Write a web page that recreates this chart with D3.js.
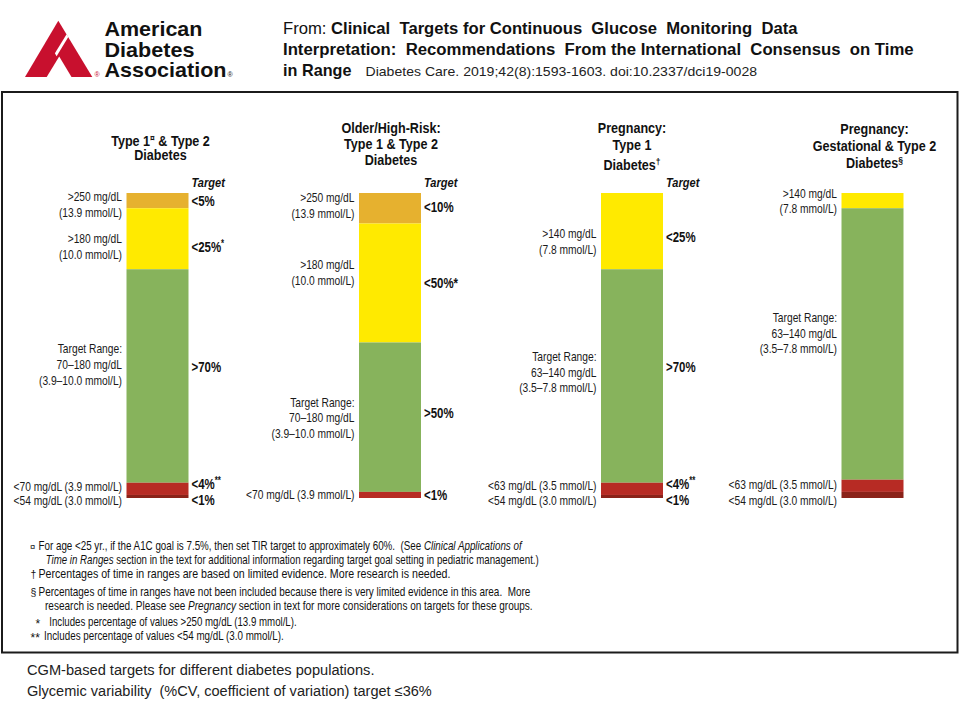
<!DOCTYPE html>
<html><head><meta charset="utf-8">
<script src="https://cdn.jsdelivr.net/npm/d3@7"></script>
<style>
body{margin:0;background:#fff}
svg{display:block}
text{font-family:"Liberation Sans",Arial,Helvetica,sans-serif;fill:#111;white-space:pre}
</style>
</head><body>
<svg id="c" width="960" height="720"></svg>
<script>
// ---------------- DATA ----------------
const categories = ["Type 1 & Type 2", "Older/High-Risk", "Pregnancy: Type 1", "Pregnancy: Gestational & Type 2"];
const bandKeys = ["veryHigh", "high", "inRange", "low", "veryLow"];
// percent of time shown in each band (top to bottom)
const veryHigh = [5, 10, 0, 0];
const high     = [20, 39, 25, 5];
const inRange  = [70, 49, 70, 89];
const low      = [4, 2, 4, 4];
const veryLow  = [1, 0, 1, 2];

const titleLines = [
  [[["Type 1"], ["¤", "sup"], [" & Type 2"]], [["Diabetes"]]],
  [[["Older/High-Risk:"]], [["Type 1 & Type 2"]], [["Diabetes"]]],
  [[["Pregnancy:"]], [["Type 1"]], [["Diabetes"], ["†", "sup"]]],
  [[["Pregnancy:"]], [["Gestational & Type 2"]], [["Diabetes"], ["§", "sup"]]]
];
// left labels: "at" = position along the bar in percent units
const leftLabels = [
  [{at: 2.6, lines: [">250 mg/dL", "(13.9 mmol/L)"]},
   {at: 16.3, lines: [">180 mg/dL", "(10.0 mmol/L)"]},
   {at: 52.6, lines: ["Target Range:", "70–180 mg/dL", "(3.9–10.0 mmol/L)"]},
   {at: 97.6, lines: ["<70 mg/dL (3.9 mmol/L)"]},
   {at: 102.2, lines: ["<54 mg/dL (3.0 mmol/L)"]}],
  [{at: 3.1, lines: [">250 mg/dL", "(13.9 mmol/L)"]},
   {at: 25, lines: [">180 mg/dL", "(10.0 mmol/L)"]},
   {at: 70, lines: ["Target Range:", "70–180 mg/dL", "(3.9–10.0 mmol/L)"]},
   {at: 100.4, lines: ["<70 mg/dL (3.9 mmol/L)"]}],
  [{at: 14.7, lines: [">140 mg/dL", "(7.8 mmol/L)"]},
   {at: 55, lines: ["Target Range:", "63–140 mg/dL", "(3.5–7.8 mmol/L)"]},
   {at: 97.4, lines: ["<63 mg/dL (3.5 mmol/L)"]},
   {at: 102.2, lines: ["<54 mg/dL (3.0 mmol/L)"]}],
  [{at: 1.5, lines: [">140 mg/dL", "(7.8 mmol/L)"]},
   {at: 42.2, lines: ["Target Range:", "63–140 mg/dL", "(3.5–7.8 mmol/L)"]},
   {at: 97, lines: ["<63 mg/dL (3.5 mmol/L)"]},
   {at: 102.2, lines: ["<54 mg/dL (3.0 mmol/L)"]}]
];
const targetLabels = [
  [{at: 4.3, t: "<5%"}, {at: 19.2, t: "<25%", sup: "*"}, {at: 58.6, t: ">70%"}, {at: 97, t: "<4%", sup: "**"}, {at: 102.3, t: "<1%"}],
  [{at: 6.1, t: "<10%"}, {at: 31.1, t: "<50%*"}, {at: 73.9, t: ">50%"}, {at: 100.7, t: "<1%"}],
  [{at: 16, t: "<25%"}, {at: 58.6, t: ">70%"}, {at: 97, t: "<4%", sup: "**"}, {at: 102.3, t: "<1%"}],
  []
];
const footnotes = [
  {sym: "¤", parts: [["For age <25 yr., if the A1C goal is 7.5%, then set TIR target to approximately 60%.  (See "], ["Clinical Applications of", "i"]]},
  {sym: "", parts: [["Time in Ranges", "i"], [" section in the text for additional information regarding target goal setting in pediatric management.)"]]},
  {sym: "†", parts: [["Percentages of time in ranges are based on limited evidence. More research is needed."]]},
  {sym: "§", parts: [["Percentages of time in ranges have not been included because there is very limited evidence in this area.  More"]]},
  {sym: "", parts: [["research is needed. Please see "], ["Pregnancy", "i"], [" section in text for more considerations on targets for these groups."]]},
  {sym: "*", parts: [["Includes percentage of values >250 mg/dL (13.9 mmol/L)."]]},
  {sym: "**", parts: [["Includes percentage of values <54 mg/dL (3.0 mmol/L)."]]}
];
const captionLines = ["CGM-based targets for different diabetes populations.",
  "Glycemic variability  (%CV, coefficient of variation) target ≤36%"];

// ---------------- LAYOUT ----------------
const svg = d3.select("#c");
const colors = {veryHigh: "#E6B12F", high: "#FFEA00", inRange: "#87B35C", low: "#B72B24", veryLow: "#8A2219"};
const x = d3.scaleOrdinal(categories, [157.5, 390, 632, 872.5]);
const barW = 62;
const y = d3.scaleLinear([0, 100], [193, 498]);
const SX = 0.8; // condensed type

function ctext(parent, px, py, anchor, size, weight, style, sx) {
  return parent.append("text")
    .attr("transform", `translate(${px},${py}) scale(${sx == null ? SX : sx},1)`)
    .attr("text-anchor", anchor)
    .style("font-size", size + "px")
    .style("font-weight", weight || "normal")
    .style("font-style", style || "normal");
}
// fit a start-anchored text to a given width by horizontal scaling
function fitText(t, px, py, w) {
  const nat = t.node().getComputedTextLength();
  t.attr("transform", `translate(${px},${py}) scale(${w / nat},1)`);
  return t;
}

// header -------------------------------------------------
const logo = svg.append("g");
logo.append("path").attr("d", "M58.3,20.7 L25,77 L92.3,77 Z").attr("fill", "#C8102E");
logo.append("path").attr("d", "M46.7,77 L71.5,77 L59.2,56.5 Z").attr("fill", "#fff");
logo.append("path").attr("d", "M66.6,34.2 L68.3,37.1 L56.6,56.2 L54.9,53.3 Z").attr("fill", "#fff");
[["American", 36, 98], ["Diabetes", 56.7, 90], ["Association", 76.7, 122]].forEach(([t, by, w]) => {
  const e = logo.append("text").style("font-size", "20px").style("font-weight", "bold").style("fill", "#111").text(t);
  fitText(e, 104.5, by, w);
});
logo.append("text").attr("x", 94.5).attr("y", 77).style("font-size", "7px").style("fill", "#C8102E").text("®");
logo.append("text").attr("x", 227.5).attr("y", 77).style("font-size", "7px").style("fill", "#111").text("®");

const h1 = svg.append("text").style("font-size", "16px");
h1.append("tspan").text("From: ");
h1.append("tspan").style("font-weight", "bold").text("Clinical  Targets for Continuous  Glucose  Monitoring  Data");
fitText(h1, 283, 33.5, 515);
fitText(svg.append("text").style("font-size", "16px").style("font-weight", "bold")
  .text("Interpretation:  Recommendations  From the International  Consensus  on Time"), 283, 54.5, 631);
fitText(svg.append("text").style("font-size", "16px").style("font-weight", "bold").text("in Range"), 283, 75.5, 68.5);
fitText(svg.append("text").style("font-size", "13px").style("fill", "#222")
  .text("Diabetes Care. 2019;42(8):1593-1603. doi:10.2337/dci19-0028"), 365.5, 75.5, 392);

// frame
svg.append("rect").attr("x", 2).attr("y", 92).attr("width", 955.5).attr("height", 560.5)
  .attr("fill", "none").attr("stroke", "#1b1b1b").attr("stroke-width", 2);

// bars ----------------------------------------------------
const table = categories.map((c, i) => ({cat: c, veryHigh: veryHigh[i], high: high[i], inRange: inRange[i], low: low[i], veryLow: veryLow[i]}));
const series = d3.stack().keys(bandKeys)(table);
svg.append("g").selectAll("g").data(series).join("g")
  .attr("fill", d => colors[d.key])
  .selectAll("rect").data(d => d.filter(v => v[1] > v[0])).join("rect")
  .attr("x", d => x(d.data.cat) - barW / 2)
  .attr("width", barW)
  .attr("y", d => y(d[0]))
  .attr("height", d => y(d[1]) - y(d[0]));

// titles
const titleBase = [[146, 160], [133, 149, 165], [133, 150, 170], [134, 151, 168]];
const titleShift = [3, 1, 0, 2];
categories.forEach((c, i) => {
  titleLines[i].forEach((line, j) => {
    const t = ctext(svg, x(c) + titleShift[i], titleBase[i][j], "middle", 14, "bold", "normal", 0.9);
    let raised = false;
    line.forEach(([s, kind]) => {
      const ts = t.append("tspan").text(s);
      if (kind === "sup") { ts.attr("dy", -5).style("font-size", "9.5px"); raised = true; }
      else if (raised) { ts.attr("dy", 5); raised = false; }
    });
  });
});

// left labels
categories.forEach((c, i) => {
  const lx = x(c) - barW / 2 - 4.5;
  leftLabels[i].forEach(lab => {
    lab.lines.forEach((ln, k) => {
      ctext(svg, lx, y(lab.at) + k * 15.8, "end", 12.8, "normal").style("fill", "#1a1a1a").text(ln);
    });
  });
});

// target labels
categories.forEach((c, i) => {
  const rx = x(c) + barW / 2 + 3;
  if (targetLabels[i].length) {
    ctext(svg, rx, y(-2.1), "start", 13.5, "bold", "italic", 0.82).text("Target");
  }
  targetLabels[i].forEach(lab => {
    const t = ctext(svg, rx, y(lab.at), "start", 14.5, "bold", "normal", 0.79);
    t.append("tspan").text(lab.t);
    if (lab.sup) t.append("tspan").attr("dy", -5).style("font-size", "10px").text(lab.sup);
  });
});

// footnotes
const fnBase = [550, 564, 578, 596, 610, 626, 640];
const fnX = [38.5, 45.7, 38.5, 38.5, 45, 49.3, 44];
const fnEnd = [522, 539, 451, 531, 533, 297, 284];
const symX = [30, 0, 30.5, 30.5, 0, 35.5, 30.5];
const symSize = [9.5, 0, 10.5, 10.5, 0, 12, 12];
footnotes.forEach((f, i) => {
  if (f.sym) svg.append("text").attr("x", symX[i]).attr("y", fnBase[i] + (f.sym[0] === "*" ? 2 : 0))
    .style("font-size", symSize[i] + "px").text(f.sym);
  const t = svg.append("text").style("font-size", "12px");
  f.parts.forEach(([s, k]) => t.append("tspan").style("font-style", k === "i" ? "italic" : "normal").text(s));
  fitText(t, fnX[i], fnBase[i], fnEnd[i] - fnX[i]);
});

// caption
const capEnd = [375, 432];
captionLines.forEach((ln, i) => {
  const t = svg.append("text").style("font-size", "14.5px").style("fill", "#222").text(ln);
  fitText(t, 27, 675 + i * 21, capEnd[i] - 27);
});
</script>
</body></html>
